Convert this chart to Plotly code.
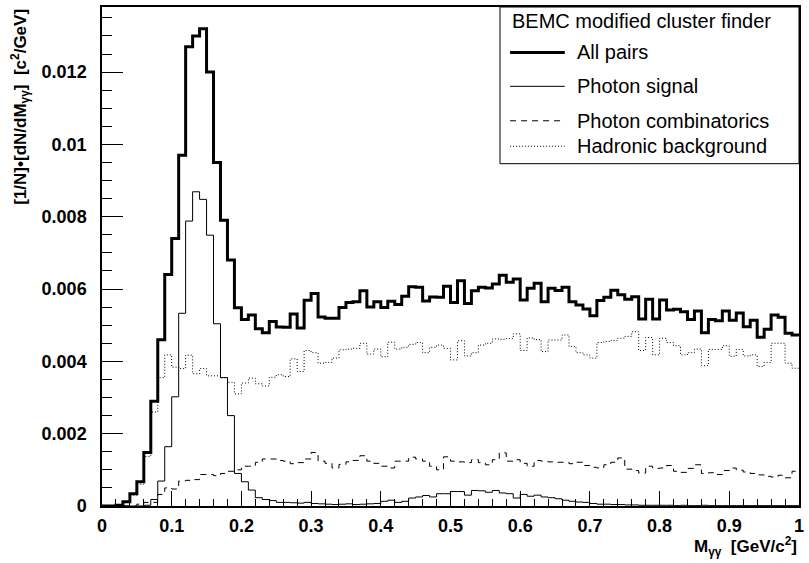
import numpy as np
import plotly.graph_objects as go

# 100 bins of width 0.01 GeV/c^2 between 0 and 1
bin_edges = np.linspace(0, 1, 101)

all_pairs = [
    0, 0, 0.00002, 0.00012, 0.00034, 0.00067, 0.00148, 0.0029, 0.0046, 0.0064,
    0.0074, 0.0097, 0.0127, 0.0130, 0.0132, 0.0120, 0.0095, 0.0079, 0.0068, 0.00548,
    0.00516, 0.00528, 0.0049, 0.00479, 0.0051, 0.00495, 0.00494, 0.00531, 0.00492, 0.00569,
    0.00588, 0.00523, 0.00519, 0.00519, 0.00549, 0.00563, 0.00565, 0.00595, 0.0055, 0.00565,
    0.00549, 0.00566, 0.00557, 0.0058, 0.00606, 0.00605, 0.00567, 0.00578, 0.00577, 0.00608,
    0.00563, 0.00623, 0.0056, 0.00595, 0.00605, 0.00603, 0.00614, 0.00638, 0.00619, 0.00628,
    0.0057, 0.00602, 0.00616, 0.00565, 0.00602, 0.00596, 0.00605, 0.00565, 0.00556, 0.00545,
    0.00526, 0.00568, 0.00577, 0.00597, 0.00584, 0.00572, 0.00579, 0.00517, 0.00572, 0.00517,
    0.0057, 0.00542, 0.00544, 0.00537, 0.00516, 0.00539, 0.00479, 0.00516, 0.00512, 0.00539,
    0.00514, 0.00534, 0.00496, 0.00514, 0.00467, 0.00489, 0.00528, 0.00522, 0.00478, 0.00473,
]

photon_signal = [
    0, 0, 0, 0, 0, 0, 0.00002, 0.00018, 0.00069, 0.00164,
    0.00302, 0.00533, 0.00788, 0.00869, 0.00848, 0.00749, 0.00504, 0.00355, 0.0025, 0.0009,
    0.00067, 0.00044, 0.00023, 0.00018, 0.00015, 0.0001, 0.0001, 0.00009, 0.00008, 0.0001,
    0.00007, 0.00006, 0.00005, 0.00004, 0.00005, 0.00006, 0.00004, 0.00005, 0.00006, 0.00007,
    0.00013, 0.00016, 0.0001, 0.00013, 0.00022, 0.00025, 0.00029, 0.00025, 0.00034, 0.00034,
    0.0004, 0.0004, 0.0003, 0.00043, 0.00042, 0.00038, 0.00043, 0.00036, 0.00034, 0.00022,
    0.00032, 0.00027, 0.0003, 0.00025, 0.00023, 0.0002, 0.00016, 0.00013, 0.00011, 0.0001,
    0.00007, 0.00005, 0.00005, 0.00004, 0.00004, 0.00003, 0.00003, 0.00002, 0.00002, 0.00002,
    0.00002, 0.00002, 0.00001, 0.00002, 0.00001, 0.00001, 0.00002, 0.00001, 0.00001, 0.00001,
    0.00001, 0.00001, 0.00001, 0.00001, 0.00001, 0.00001, 0.00001, 0.00001, 0.00001, 0.00001,
]

photon_comb = [
    0, 0, 0, 0, 0, 0.00005, 0.0001, 0.0001, 0.00032, 0.0005,
    0.00047, 0.00069, 0.00071, 0.00073, 0.00087, 0.00087, 0.00084, 0.0009, 0.00096, 0.001,
    0.0011, 0.0011, 0.00121, 0.0013, 0.0013, 0.00126, 0.00124, 0.00117, 0.0012, 0.0013,
    0.00148, 0.00124, 0.00118, 0.00105, 0.00115, 0.00122, 0.00126, 0.00139, 0.00124, 0.00118,
    0.0011, 0.00105, 0.00124, 0.00124, 0.00135, 0.0013, 0.00124, 0.0011, 0.001, 0.00136,
    0.00124, 0.00122, 0.0012, 0.00128, 0.0012, 0.00114, 0.00128, 0.00147, 0.00124, 0.00128,
    0.00118, 0.0011, 0.00126, 0.00124, 0.00122, 0.00121, 0.00121, 0.00117, 0.00121, 0.00112,
    0.00107, 0.00105, 0.00114, 0.00121, 0.00133, 0.00102, 0.00098, 0.00091, 0.0011, 0.00104,
    0.00105, 0.00112, 0.00096, 0.00093, 0.00104, 0.00114, 0.0009, 0.00092, 0.00087, 0.00098,
    0.00105, 0.00099, 0.00094, 0.0009, 0.00086, 0.00082, 0.0008, 0.00085, 0.00078, 0.00096,
]

hadronic = [
    0, 0, 0, 0.0001, 0.0003, 0.0006, 0.00137, 0.0026, 0.00355, 0.00418,
    0.00384, 0.0038, 0.00417, 0.00366, 0.0038, 0.0036, 0.0036, 0.00355, 0.00342, 0.0031,
    0.0034, 0.00354, 0.00338, 0.00332, 0.00356, 0.00363, 0.00358, 0.00407, 0.00372, 0.0043,
    0.00424, 0.00395, 0.00397, 0.00409, 0.00432, 0.00434, 0.00436, 0.0045, 0.0042, 0.00434,
    0.00413, 0.00453, 0.00434, 0.00439, 0.00447, 0.00452, 0.00424, 0.00439, 0.00445, 0.00436,
    0.00404, 0.00457, 0.00415, 0.00424, 0.00445, 0.0045, 0.00462, 0.00461, 0.00463, 0.00476,
    0.0043, 0.00465, 0.0046, 0.00427, 0.00459, 0.00459, 0.00473, 0.00441, 0.00424, 0.00418,
    0.00409, 0.00452, 0.00455, 0.00458, 0.00464, 0.00469, 0.00482, 0.0043, 0.00466, 0.00418,
    0.00464, 0.00452, 0.00443, 0.00418, 0.00424, 0.00434, 0.00388, 0.00433, 0.00433, 0.00443,
    0.00414, 0.00433, 0.00415, 0.00418, 0.00386, 0.00397, 0.0045, 0.0045, 0.00395, 0.00381,
]

x_tickvals = [0, 0.1, 0.2, 0.3, 0.4, 0.5, 0.6, 0.7, 0.8, 0.9, 1.0]
x_ticktext = ["0", "0.1", "0.2", "0.3", "0.4", "0.5", "0.6", "0.7", "0.8", "0.9", "1"]
y_tickvals = [0, 0.002, 0.004, 0.006, 0.008, 0.010, 0.012]
y_ticktext = ["0", "0.002", "0.004", "0.006", "0.008", "0.01", "0.012"]

series = [
    ("Hadronic background", hadronic, 1, "1px,2px"),
    ("Photon combinatorics", photon_comb, 1, "6px,5px"),
    ("Photon signal", photon_signal, 1, "solid"),
    ("All pairs", all_pairs, 3, "solid"),
]

fig = go.Figure()
for name, vals, w, dash in series:
    # histogram outline: value held over each bin, last value repeated at x=1
    fig.add_trace(go.Scatter(
        x=bin_edges, y=list(vals) + [vals[-1]],
        mode="lines", line_shape="hv", name=name,
        line=dict(color="black", width=w, dash=dash),
        showlegend=False, hoverinfo="skip",
    ))

tick_font = dict(family="Liberation Sans", size=18, color="black", weight="bold")

fig.update_xaxes(
    range=[0, 1], tickmode="array", tickvals=x_tickvals, ticktext=x_ticktext,
    ticks="inside", ticklen=15, tickwidth=1, tickcolor="black",
    minor=dict(tickmode="linear", tick0=0, dtick=0.02, ticks="inside", ticklen=7, tickcolor="black"),
    showline=True, linecolor="black", linewidth=1.5, mirror=True,
    showgrid=False, zeroline=False, tickfont=tick_font, ticklabelstandoff=3,
)
fig.update_yaxes(
    range=[0, 0.0138], tickmode="array", tickvals=y_tickvals, ticktext=y_ticktext,
    ticks="inside", ticklen=21, tickwidth=1, tickcolor="black",
    minor=dict(tickmode="linear", tick0=0, dtick=0.0005, ticks="inside", ticklen=10, tickcolor="black"),
    showline=True, linecolor="black", linewidth=1.5, mirror=True,
    showgrid=False, zeroline=False, tickfont=tick_font, ticklabelstandoff=10,
)

title_font = dict(family="Liberation Sans", size=17, color="black", weight="bold")
legend_font = dict(family="Liberation Sans", size=20, color="black")

annotations = [
    dict(text="M<sub>γγ</sub>  [GeV/c<sup>2</sup>]", x=1.0, y=-0.052,
         xanchor="right", yanchor="top", font=title_font),
    dict(text="[1/N]•[dN/dM<sub>γγ</sub>]  [c<sup>2</sup>/GeV]", x=-0.118, y=1.0,
         xanchor="center", yanchor="top", textangle=-90, font=title_font),
    dict(text="BEMC modified cluster finder", x=0.586, y=0.972,
         xanchor="left", yanchor="middle", font=legend_font),
]

# hand-built ROOT-style legend box
legend_rows = [("All pairs", 0.909, 3, "solid"),
               ("Photon signal", 0.841, 1, "solid"),
               ("Photon combinatorics", 0.772, 1, "6px,5px"),
               ("Hadronic background", 0.721, 1, "1px,2px")]
shapes = [dict(type="rect", xref="paper", yref="paper", x0=0.571, x1=1.0, y0=0.686, y1=1.0,
               line=dict(color="black", width=1), fillcolor="white", layer="above")]
for label, yy, w, dash in legend_rows:
    shapes.append(dict(type="line", xref="paper", yref="paper", x0=0.5855, x1=0.664, y0=yy, y1=yy,
                       line=dict(color="black", width=w, dash=dash), layer="above"))
    annotations.append(dict(text=label, x=0.678, y=yy, xanchor="left", yanchor="middle",
                            font=legend_font))

for a in annotations:
    a.update(xref="paper", yref="paper", showarrow=False)

fig.update_layout(
    width=809, height=563,
    margin=dict(l=102, r=5, t=6, b=57),
    paper_bgcolor="white", plot_bgcolor="white",
    annotations=annotations, shapes=shapes,
    hovermode=False,
)

# drop the default page margin so the figure sits at the window's top-left corner
fig.write_html("out.html", config={"displayModeBar": False},
               post_script="document.body.style.margin='0';")
